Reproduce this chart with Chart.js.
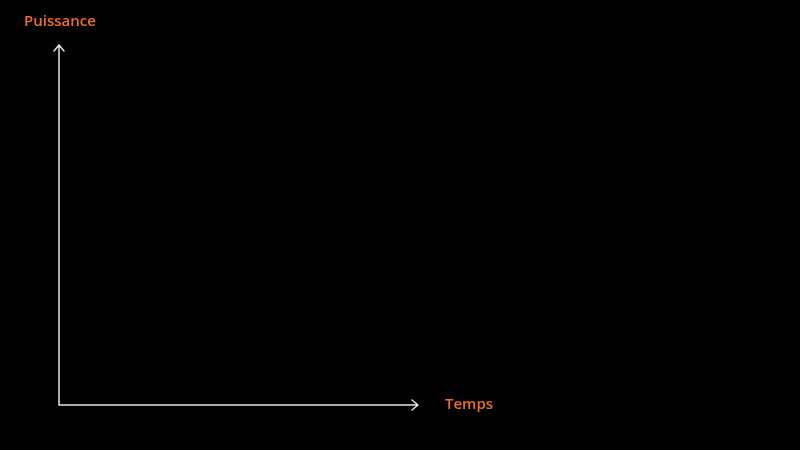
<!DOCTYPE html>
<html>
<head>
<meta charset="utf-8">
<script src="https://cdn.jsdelivr.net/npm/chart.js@4"></script>
<style>
  html, body { margin: 0; padding: 0; background: #000; }
  canvas { display: block; }
</style>
</head>
<body>
<canvas id="chart" width="800" height="450"></canvas>
<script>
// axis names as shown in the picture, no data points are plotted
const yTitle = 'Puissance';
const xTitle = 'Temps';
const xRange = [0, 10];
const yRange = [0, 10];
const points = [];

const axisColor = '#e6e6e6';
const labelColor = '#f07023';

const arrowsAndTitles = {
  id: 'arrowsAndTitles',
  afterDraw(chart) {
    const c = chart.ctx;
    const xs = chart.scales.x, ys = chart.scales.y;
    const x0 = xs.getPixelForValue(xRange[0]);
    const x1 = xs.getPixelForValue(xRange[1]);
    const y0 = ys.getPixelForValue(yRange[0]);
    const y1 = ys.getPixelForValue(yRange[1]);
    c.save();
    c.strokeStyle = axisColor;
    c.lineWidth = 1.5;
    c.lineCap = 'round';
    c.lineJoin = 'round';
    c.beginPath();
    c.moveTo(x0, y0);
    c.lineTo(x0, y1);
    c.moveTo(x0 - 5, y1 + 6);
    c.lineTo(x0, y1);
    c.lineTo(x0 + 5, y1 + 6);
    c.moveTo(x0, y0);
    c.lineTo(x1, y0);
    c.moveTo(x1 - 6, y0 - 5);
    c.lineTo(x1, y0);
    c.lineTo(x1 - 6, y0 + 5);
    c.stroke();

    c.fillStyle = labelColor;
    c.font = '600 15px "Open Sans", sans-serif';
    c.textBaseline = 'middle';
    c.textAlign = 'left';
    c.fillText(yTitle, 24, 22);
    c.fillText(xTitle, x1 + 27, y0);
    c.restore();
  }
};

new Chart(document.getElementById('chart').getContext('2d'), {
  type: 'scatter',
  data: {
    datasets: [{ data: points, showLine: true, borderColor: labelColor }]
  },
  options: {
    responsive: false,
    animation: false,
    layout: { padding: { left: 59, top: 45, right: 382, bottom: 45 } },
    plugins: { legend: { display: false }, tooltip: { enabled: false } },
    scales: {
      x: {
        min: xRange[0], max: xRange[1],
        grid: { display: false, drawTicks: false },
        border: { display: false },
        ticks: { display: false, padding: 0 }
      },
      y: {
        min: yRange[0], max: yRange[1],
        grid: { display: false, drawTicks: false },
        border: { display: false },
        ticks: { display: false, padding: 0 }
      }
    }
  },
  plugins: [arrowsAndTitles]
});
</script>
</body>
</html>
